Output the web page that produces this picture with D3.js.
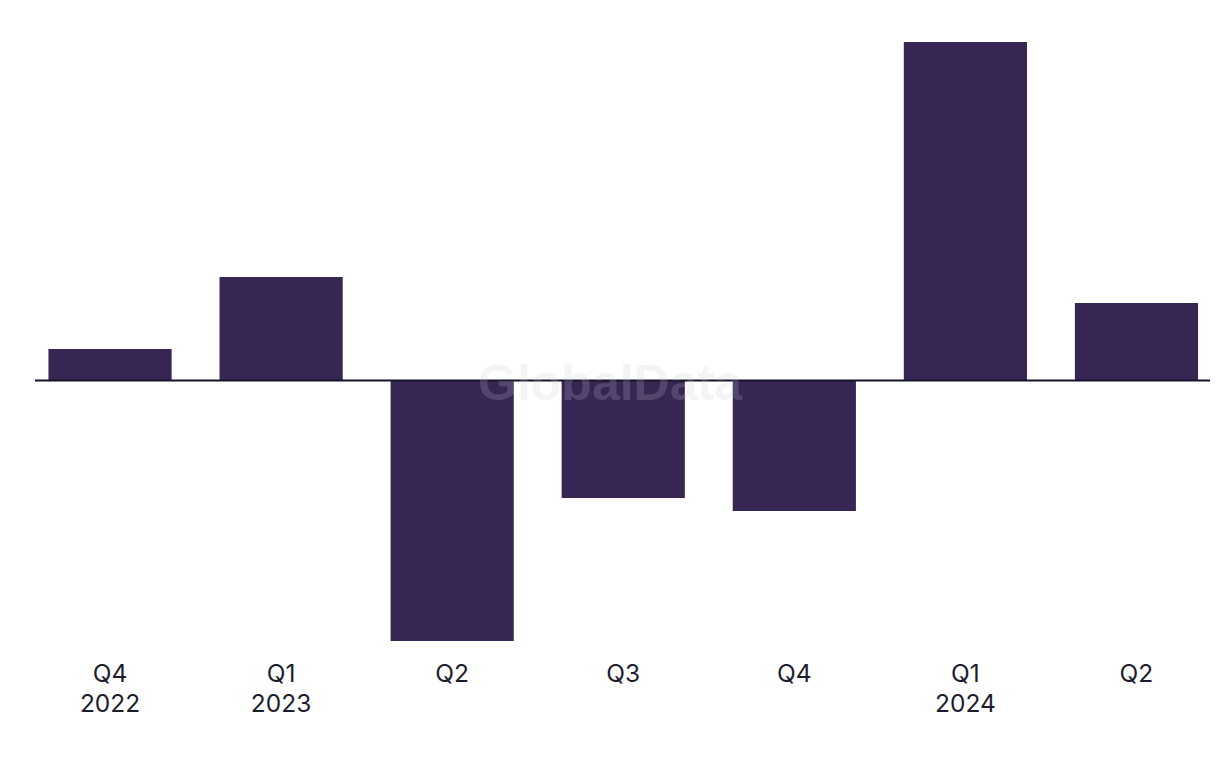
<!DOCTYPE html>
<html><head><meta charset="utf-8">
<script src="https://cdn.jsdelivr.net/npm/d3@7"></script>
<style>body{margin:0;background:#fff}svg{display:block}</style>
</head><body>
<script>
const quarters = ["Q4","Q1","Q2","Q3","Q4","Q1","Q2"];
const years = ["2022","2023","","","","2024",""];
const values = [3.15, 10.35, -26.05, -11.75, -13.05, 33.85, 7.75];

const W = 1220, H = 768;
const svg = d3.select("body").append("svg").attr("width", W).attr("height", H);
const idx = d3.range(values.length);
const x = d3.scaleBand().domain(idx).range([24.5, 1222]).paddingInner(0.28).paddingOuter(0.14);
const y = d3.scaleLinear().domain([-30, 40]).range([680.5, -19.5]);

svg.append("g").selectAll("rect").data(idx).join("rect")
  .attr("x", i => x(i)).attr("width", x.bandwidth())
  .attr("y", i => y(Math.max(0, values[i])))
  .attr("height", i => Math.abs(y(values[i]) - y(0)))
  .attr("fill", "#372554");

svg.append("line").attr("x1", 35).attr("x2", 1210).attr("y1", y(0)).attr("y2", y(0))
  .attr("stroke", "#15152a").attr("stroke-width", 1.8);

svg.append("text").attr("x", 610).attr("y", 400).attr("text-anchor", "middle")
  .attr("font-family", "'Liberation Sans', Arial, sans-serif").attr("font-weight", 700)
  .attr("font-size", 50).attr("fill", "#c8c8d0").attr("fill-opacity", 0.2).text("GlobalData");

const lab = svg.append("g").attr("font-family", "Inter, 'Liberation Sans', sans-serif")
  .attr("font-size", 24.5).attr("fill", "#1c1c2c").attr("text-anchor", "middle");
lab.selectAll("text.q").data(idx).join("text").attr("class","q")
  .attr("x", i => x(i) + x.bandwidth()/2).attr("y", 682).text(i => quarters[i]);
lab.selectAll("text.y").data(idx.filter(i => years[i])).join("text").attr("class","y")
  .attr("x", i => x(i) + x.bandwidth()/2).attr("y", 712).text(i => years[i]);
</script>
</body></html>
